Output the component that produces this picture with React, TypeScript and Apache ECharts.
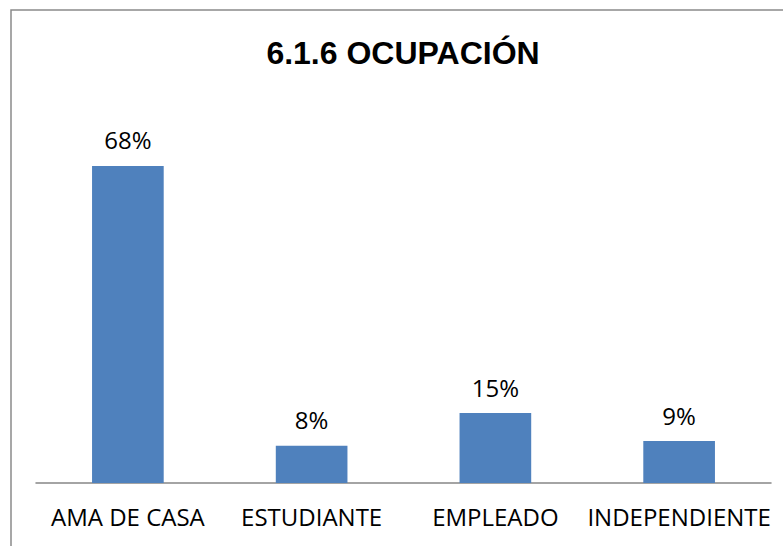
import React, { useEffect, useRef } from "react";
import * as echarts from "echarts";

const categories = ["AMA DE CASA", "ESTUDIANTE", "EMPLEADO", "INDEPENDIENTE"];
const values = [68, 8, 15, 9];
const titleText = "6.1.6 OCUPACIÓN";

export default function App() {
  const ref = useRef<HTMLDivElement>(null);
  useEffect(() => {
    if (!ref.current) return;
    const chart = echarts.init(ref.current, null, { renderer: "svg" });
    chart.setOption({
      animation: false,
      backgroundColor: "#ffffff",
      title: {
        text: titleText,
        left: 398,
        top: 32,
        textAlign: "center",
        textStyle: {
          fontFamily: "Liberation Sans, Arial, sans-serif",
          fontWeight: "bold",
          fontSize: 32,
          color: "#000000",
        },
      },
      graphic: [
        {
          type: "rect",
          shape: { x: 11, y: 10, width: 900, height: 700 },
          style: { fill: "none", stroke: "#8a8a8a", lineWidth: 1.5 },
          silent: true,
          z: 0,
        },
      ],
      grid: { left: 36, right: 12, top: 110, bottom: 63 },
      xAxis: {
        type: "category",
        data: categories,
        axisLine: { show: true, lineStyle: { color: "#868686", width: 1.5 } },
        axisTick: { show: false },
        axisLabel: {
          interval: 0,
          margin: 21,
          fontFamily: "Open Sans, sans-serif",
          fontSize: 24,
          color: "#000000",
        },
      },
      yAxis: {
        type: "value",
        min: 0,
        max: 80,
        show: false,
        splitLine: { show: false },
      },
      series: [
        {
          type: "bar",
          data: values,
          barWidth: "39%",
          itemStyle: { color: "#4F81BD" },
          label: {
            show: true,
            position: "top",
            distance: 14,
            formatter: (p: any) => `${p.value}%`,
            fontFamily: "Open Sans, sans-serif",
            fontSize: 24,
            color: "#000000",
          },
        },
      ],
    });
    return () => chart.dispose();
  }, []);
  return (
    <div
      ref={ref}
      style={{ position: "fixed", left: 0, top: 0, width: 783, height: 546 }}
    />
  );
}
